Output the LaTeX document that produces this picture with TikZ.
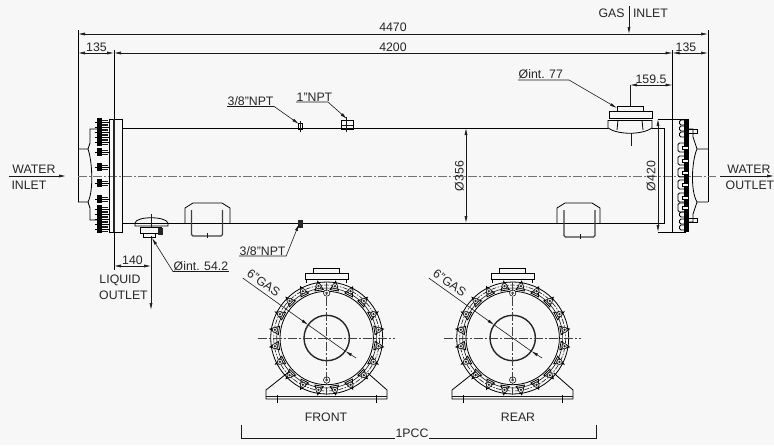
\documentclass[tikz,border=0pt]{standalone}
\usepackage{fontspec}
\setmainfont{Liberation Sans}
\usetikzlibrary{arrows.meta}
\definecolor{paper}{HTML}{F7F7F7}
\tikzset{
    >={Latex[length=7pt,width=3pt]},
    body/.style={line width=0.8pt,black},
    thin line/.style={line width=0.6pt,black!90},
    centre/.style={line width=0.7pt,black!55,dash pattern=on 9pt off 2pt on 2pt off 2pt},
    lbl/.style={inner sep=0.5pt,font=\fontsize{12.3}{12.3}\selectfont,text=black!85},
    endview/.pic={
        % rings
        \draw[body] (0,0) circle [radius=56];
        \draw[thin line] (0,0) circle [radius=50];
        \draw[body] (0,0) circle [radius=46.7];
        \draw[line width=1.4pt,black!85] (0,0) circle [radius=22.7];
        \draw[thin line,dash pattern=on 5pt off 1.5pt on 1.5pt off 1.5pt] (0,0) circle [radius=53];
        \foreach \a in {9,27,...,351} {
            \draw[body] (\a:57.5) -- (\a-5:48.5) -- (\a+5:48.5) -- cycle;
            \draw[thin line,fill=paper] (\a:52.5) circle [radius=2.6];
            \fill[black!85] (\a:52.5) circle [radius=1.3];
        }
        \draw[thin line,fill=paper] (0,-45) circle [radius=3.2];
        \fill[black!70] (0,-45) circle [radius=1.5];
        \draw[thin line,fill=paper] (0,42) circle [radius=3.2];
        \fill[black!70] (0,42) circle [radius=1.5];
        % centre lines
        \draw[centre,black!75] (-69,0) -- (68,0);
        \draw[centre,black!75] (0,-56) -- (0,57);
        % top nozzle
        \draw[body,fill=paper] (-21.5,-65) rectangle (21.5,-59);
        \draw[body] (-13.5,-70) rectangle (12.5,-65);
        \draw[body] (-20,-59) -- (-20,-55);
        \draw[body] (20,-59) -- (20,-55);
        % saddle
        \draw[body] (-38,34) -- (-60.7,52) -- (-60.7,61) -- (60.3,61) -- (60.3,52) -- (41,35);
        \draw[thin line] (-60.7,58.5) -- (60.3,58.5);
        \draw[body] (-49.7,57) -- (-49.7,65);
        \draw[body] (49.3,57) -- (49.3,65);
        % leader
        \node[lbl,rotate=-35] (gaslbl) at (-63,-55) {6"GAS};
        \coordinate (gasfar) at (-84,-60);
        \coordinate (gasa) at (-18.5,-13.1);
        \coordinate (gasb) at (18.5,13.1);
        \coordinate (gasend) at (29.4,20);
        \draw[thin line,->] (gasfar) -- (gasa);
        \draw[thin line] (gasa) -- (gasb);
        \draw[thin line,->] (gasend) -- (gasb);
    }
}
% one bolt on the left cover
\newcommand{\boltleft}[1]{
    \fill[black] (97,#1-3.8) rectangle (102,#1+3.8);
    \draw[body] (94.5,#1) -- (109,#1);
    \draw[thin line] (102,#1-2.2) -- (108,#1-2.2);
    \draw[thin line] (102,#1+2.2) -- (108,#1+2.2);
}
\begin{document}
\begin{tikzpicture}[x=1pt,y=-1pt]
    \useasboundingbox (0,0) rectangle (774,445);
    \fill[paper] (0,0) rectangle (774,445);

    % extension lines
    \coordinate (topl) at (78,34);
    \coordinate (topr) at (708,34);
    \coordinate (secl) at (78,53);
    \coordinate (secm) at (114,53);
    \coordinate (secn) at (672.5,53);
    \coordinate (secr) at (708,53);
    \draw[body] (78,30) -- (78,202);
    \draw[body] (114,50) -- (114,270);
    \draw[body] (672.5,50) -- (672.5,232);
    \draw[body] (708,30) -- (708,202);

    % overall dimensions
    \draw[thin line,<->] (topl) -- (topr);
    \draw[thin line,<->] (secl) -- (secm);
    \draw[thin line,<->] (secm) -- (secn);
    \draw[thin line,<->] (secn) -- (secr);
    \node[lbl] (d4470) at (393,27) {4470};
    \node[lbl] (d4200) at (393,47) {4200};
    \node[lbl] (d135l) at (96.5,47) {135};
    \node[lbl] (d135r) at (686,47) {135};

    % gas inlet
    \node[lbl] (gas) at (611.5,13.5) {GAS};
    \node[lbl] (inl) at (650.5,13.5) {INLET};
    \coordinate (gasin) at (629,6);
    \coordinate (gastip) at (629,34);
    \draw[thin line,->] (gasin) -- (gastip);

    % shell
    \draw[body] (122,128) -- (608,128);
    \draw[body] (652,128) -- (664,128);
    \draw[body] (122,223) -- (664,223);
    \draw[centre] (78,176) -- (716,176);

    % left end
    \draw[body] (109,119) rectangle (122,232);
    \draw[line width=1.3pt,black!85] (114,119) -- (114,232);
    \draw[body] (78,149) -- (88,149) .. controls (92,160) and (94,190) .. (88,202) -- (78,202);
    \draw[body] (88,149) -- (90,143) -- (90,129) -- (97,129);
    \draw[body] (88,202) -- (90,208) -- (90,220) -- (97,220);
    \foreach \y in {122,127,132,137,142,152,167,183,199,209,214,219,224,229} {
        \boltleft{\y}
    }

    % right end
    \draw[body] (664,128) -- (664,224);
    \draw[body] (658,119) -- (686,119);
    \draw[body] (658,232) -- (686,232);
    \fill[black] (684,119) rectangle (688.5,232);
    \foreach \y in {120,126,132,212,219,225} {
        \draw[body,rounded corners=1.5pt] (686,\y) -- (679.5,\y) -- (679.5,\y+5) -- (686,\y+5);
    }
    \foreach \y in {143,156,168,180,193,203} {
        \draw[body,rounded corners=1.5pt] (686,\y) -- (678,\y) -- (678,\y+9) -- (686,\y+9);
        \draw[body,fill=paper] (682,\y+3) rectangle (688,\y+6);
    }
    \draw[body] (708,149) -- (697,149) .. controls (692,160) and (690,190) .. (697,202) -- (708,202);
    \draw[body] (697,149) -- (693,137) -- (693,129) -- (687,129);
    \draw[body] (688,129) rectangle (697,133);
    \draw[body] (697,202) -- (693,214) -- (693,222) -- (687,222);
    \draw[body] (688,218) rectangle (697,222);

    % gas nozzle
    \draw[body] (617,106) rectangle (643,111.5);
    \draw[body] (609,111.5) rectangle (652,118);
    \draw[body] (608,120) -- (652,120);
    \draw[body] (608,120) -- (608,128) .. controls (618,135) and (642,135) .. (652,128) -- (652,120);
    \draw[body] (617,130) -- (618,120);
    \draw[body] (643,130) -- (642,120);
    \draw[thin line] (631,133) -- (631,146);
    \draw[thin line] (630,85) -- (630,106);
    \coordinate (noza) at (630,85);
    \coordinate (nozb) at (672.5,85);
    \draw[thin line,<->] (noza) -- (nozb);
    \node[lbl] (d159) at (651,79) {159.5};
    \node[lbl,anchor=south west] (noz77) at (518,80) {Øint. 77};
    \coordinate (noz77tip) at (617,108);
    \draw[thin line,->] (noz77.south west) -- (569,80) -- (noz77tip);

    % fittings on the shell
    \draw[body] (298,123) rectangle (302,129);
    \draw[thin line] (300,121) -- (300,132);
    \draw[body] (341,120) rectangle (353,129);
    \draw[thin line] (346.5,117) -- (346.5,132);
    \draw[thin line] (341,125) -- (353,125);
    \fill[black!85] (297.5,220) rectangle (302.5,228);
    \node[lbl,anchor=south west] (npta) at (227,106.5) {3/8"NPT};
    \node[lbl,anchor=south west] (nptb) at (296,102) {1"NPT};
    \node[lbl,anchor=south west] (nptc) at (239,256) {3/8"NPT};
    \coordinate (nptatip) at (299,124);
    \coordinate (nptbtip) at (347,119);
    \coordinate (nptctip) at (299,224);
    \draw[thin line,->] (npta.south west) -- (npta.south east) -- (nptatip);
    \draw[thin line,->] (nptb.south west) -- (328,102) -- (nptbtip);
    \draw[thin line,->] (nptc.south west) -- (nptc.south east) -- (nptctip);

    % saddles
    \draw[body] (185,223) -- (185,208) -- (193,203) -- (222,203) -- (230,208) -- (230,223);
    \draw[line width=1.1pt,black!75,rounded corners=1.5pt] (191.5,210) -- (191.5,236) -- (222.5,236) -- (222.5,210);
    \draw[thin line] (207,233) -- (207,238);
    \draw[body] (557,223) -- (557,208) -- (565,203) -- (592,203) -- (600,208) -- (600,223);
    \draw[line width=1.1pt,black!75,rounded corners=1.5pt] (564,210) -- (564,237) -- (595,237) -- (595,210);
    \draw[thin line] (580,234) -- (580,239);

    % diameters
    \coordinate (d356a) at (466,128);
    \coordinate (d356b) at (466,223);
    \coordinate (d420a) at (658,119);
    \coordinate (d420b) at (658,232);
    \draw[thin line,<->] (d356a) -- (d356b);
    \draw[thin line,<->] (d420a) -- (d420b);
    \node[lbl,rotate=90] (d356) at (459.5,176) {Ø356};
    \node[lbl,rotate=90] (d420) at (651,176) {Ø420};

    % liquid outlet
    \draw[body] (135,223) .. controls (136,216) and (166,216) .. (168,223) -- (168,226) -- (135,226) -- cycle;
    \draw[body] (140,227) rectangle (161,233);
    \draw[body] (143,233) rectangle (155,237);
    \fill[black!85] (158,228) rectangle (163,235);
    \draw[thin line] (151,214) -- (151,227);
    \coordinate (liqtop) at (151,236);
    \coordinate (liqtip) at (151,310);
    \draw[thin line,->] (liqtop) -- (liqtip);
    \node[lbl] (liqa) at (120,280) {LIQUID};
    \node[lbl] (liqb) at (123.5,295) {OUTLET};
    \coordinate (d140a) at (114,266);
    \coordinate (d140b) at (151,266);
    \draw[thin line,<->] (d140a) -- (d140b);
    \node[lbl] (d140) at (132.5,260) {140};
    \node[lbl,anchor=south west] (liqint) at (173,271.5) {Øint. 54.2};
    \coordinate (liqinttip) at (152,238);
    \draw[thin line,->] (liqint.south east) -- (liqint.south west) -- (liqinttip);

    % water
    \node[lbl] (wia) at (34,169) {WATER};
    \node[lbl] (wib) at (29,185) {INLET};
    \node[lbl] (woa) at (749,169) {WATER};
    \node[lbl,anchor=west] (wob) at (725,185) {OUTLET};
    \coordinate (wiin) at (9,176);
    \coordinate (wiout) at (66,176);
    \coordinate (woin) at (720,176);
    \coordinate (woout) at (774,176);
    \draw[thin line,->] (wiin) -- (wiout);
    \draw[thin line,->] (woin) -- (woout);

    % end views
    \pic (front) at (326.7,338) {endview};
    \pic (rear) at (512.7,338) {endview};
    \node[lbl] (frontlbl) at (326,417) {FRONT};
    \node[lbl] (rearlbl) at (518,417) {REAR};

    % bracket
    \node[lbl] (pcc) at (412,433) {1PCC};
    \coordinate (brla) at (241,425);
    \coordinate (brlb) at (241,438.5);
    \coordinate (brra) at (596,425);
    \coordinate (brrb) at (596,438.5);
    \draw[thin line] (brla) -- (brlb) -- (pcc.west |- brlb);
    \draw[thin line] (brra) -- (brrb) -- (pcc.east |- brrb);
\end{tikzpicture}
\end{document}
